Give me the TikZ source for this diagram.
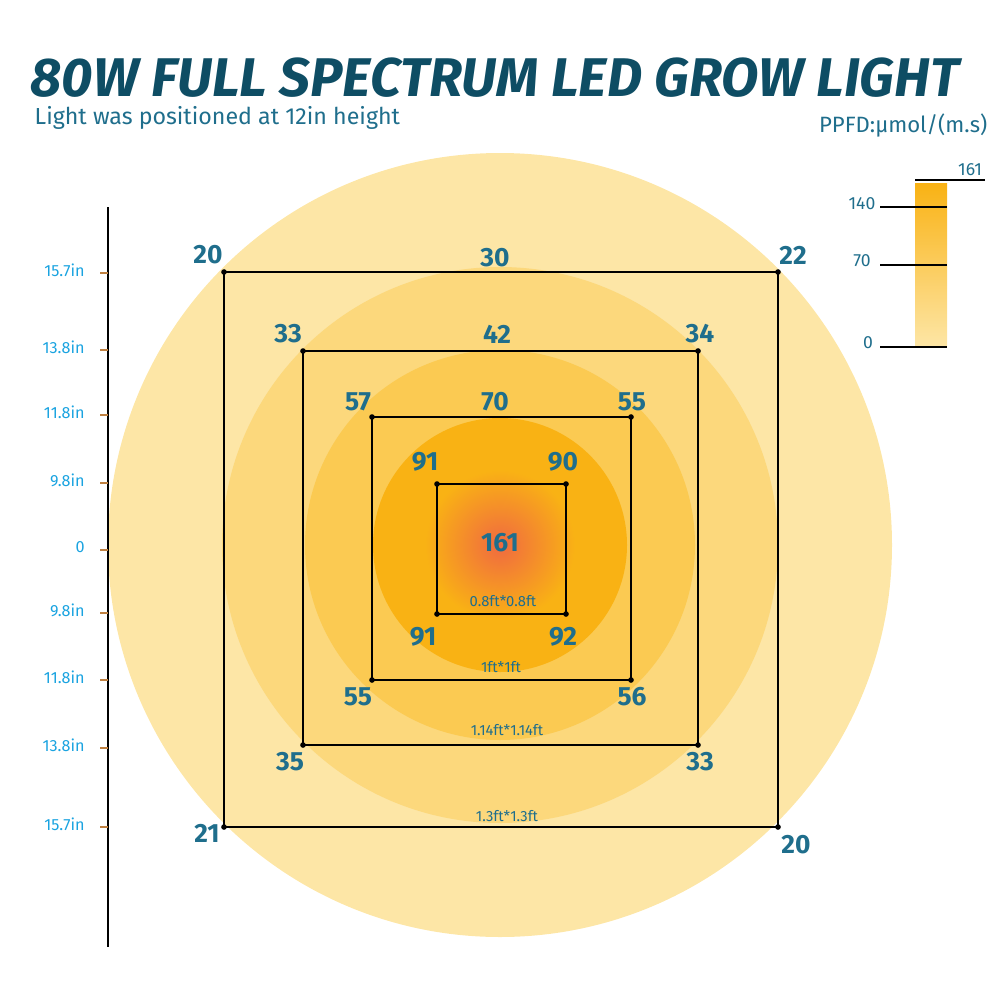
\documentclass[tikz,border=0pt]{standalone}
\usepackage{fontspec}
\setmainfont{Fira Sans}
\usetikzlibrary{positioning}
\definecolor{teal}{HTML}{1F6E8C}
\definecolor{deepteal}{HTML}{0E4D64}
\definecolor{axcyan}{HTML}{1AA3E0}
\definecolor{ringa}{HTML}{FDE6A6}
\definecolor{ringb}{HTML}{FCD87C}
\definecolor{ringc}{HTML}{FBCA52}
\definecolor{ringd}{HTML}{F9B214}
\definecolor{hot}{HTML}{F06A40}
\begin{document}
\begin{tikzpicture}[x=0.01cm,y=-0.01cm,
val/.style={text=teal,font=\bfseries\fontsize{7.5}{7.5}\selectfont},
dim/.style={text=teal,font=\fontsize{4.2}{4.2}\selectfont},
ax/.style={text=axcyan,font=\fontsize{4.6}{4.6}\selectfont,anchor=east},
bar/.style={text=teal,font=\fontsize{5}{5}\selectfont},
dot/.style={circle,fill=black,inner sep=0pt,minimum size=1.6pt},
sq/.style={draw=black,line width=0.6pt}
]
\useasboundingbox (0,0) rectangle (1000,1000);
% title
\node[text=deepteal,font=\bfseries\itshape\fontsize{15.5}{15.5}\selectfont,anchor=west,inner sep=0pt] (title) at (30,78) {80W FULL SPECTRUM LED GROW LIGHT};
\node[text=teal,font=\fontsize{6.6}{6.6}\selectfont,anchor=west,inner sep=0pt] (sub) at (34,118) {Light was positioned at 12in height};
\node[text=teal,font=\fontsize{6.3}{6.3}\selectfont,anchor=east,inner sep=0pt] (ppfd) at (988,125) {PPFD:µmol/(m.s)};
% rings
\fill[ringa] (500,545) circle (392);
\fill[ringb] (500,545) circle (278);
\fill[ringc] (500,545) circle (195);
\fill[ringd] (500,545) circle (127);
\shade[inner color=hot,outer color=ringd] (500,545) circle (75);
% squares
\coordinate (a1) at (224,272); \coordinate (a2) at (778,272);
\coordinate (a3) at (778,827); \coordinate (a4) at (224,827);
\coordinate (b1) at (303,351); \coordinate (b2) at (698,351);
\coordinate (b3) at (698,745); \coordinate (b4) at (303,745);
\coordinate (c1) at (372,417); \coordinate (c2) at (631,417);
\coordinate (c3) at (631,680); \coordinate (c4) at (372,680);
\coordinate (d1) at (437,484); \coordinate (d2) at (566,484);
\coordinate (d3) at (566,614); \coordinate (d4) at (437,614);
\foreach \s in {a,b,c,d}{
  \draw[sq] (\s1) -- (\s2) -- (\s3) -- (\s4) -- cycle;
  \foreach \i in {1,2,3,4} \node[dot] at (\s\i) {};
}
% readings
\node[val] at (208,255) {20}; \node[val] at (495,258) {30}; \node[val] at (793,255) {22};
\node[val] at (207,833) {21}; \node[val] at (796,845) {20};
\node[val] at (288,334) {33}; \node[val] at (497,334) {42}; \node[val] at (700,334) {34};
\node[val] at (290,762) {35}; \node[val] at (700,762) {33};
\node[val] at (358,402) {57}; \node[val] at (495,402) {70}; \node[val] at (632,402) {55};
\node[val] at (358,697) {55}; \node[val] at (632,697) {56};
\node[val] at (425,462) {91}; \node[val] at (563,462) {90};
\node[val] at (423,637) {91}; \node[val] at (563,637) {92};
\node[val] at (500,543) {161};
\node[dim] at (503,601) {0.8ft*0.8ft};
\node[dim] at (501,667) {1ft*1ft};
\node[dim] at (507,730) {1.14ft*1.14ft};
\node[dim] at (507,816) {1.3ft*1.3ft};
% axis
\draw[line width=0.6pt] (108,207) -- (108,947);
\foreach \y/\t in {273/15.7in,350/13.8in,415/11.8in,483/9.8in,550/0,613/9.8in,680/11.8in,748/13.8in,827/15.7in}{
  \draw[brown,line width=0.4pt] (100,\y) -- (108,\y);
  \node[ax] at (97,\y-3) {\t};
}
% scale bar
\shade[top color=ringd,bottom color=ringa] (915,183) rectangle (947,347);
\draw[line width=0.5pt] (915,180) -- (985,180);
\draw[line width=0.5pt] (880,207) -- (947,207);
\draw[line width=0.5pt] (880,265) -- (947,265);
\draw[line width=0.5pt] (880,347) -- (947,347);
\node[bar] at (970,170) {161};
\node[bar] at (862,204) {140};
\node[bar] at (862,261) {70};
\node[bar] at (868,343) {0};
\end{tikzpicture}
\end{document}
